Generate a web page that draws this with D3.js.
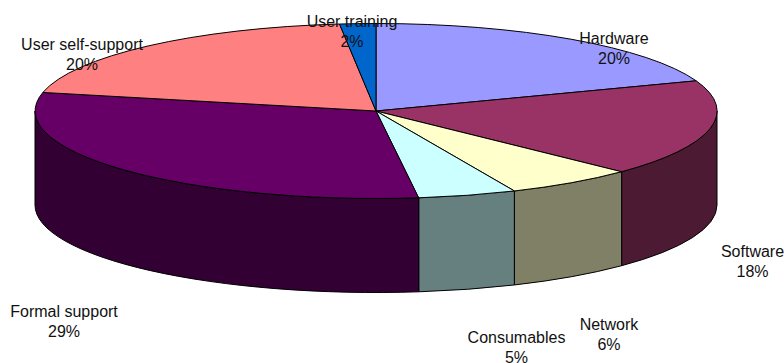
<!DOCTYPE html>
<html><head><meta charset="utf-8">
<script src="https://cdnjs.cloudflare.com/ajax/libs/d3/7.8.5/d3.min.js"></script>
<style>html,body{margin:0;padding:0;background:#fff}svg{display:block}
text{font-family:"Liberation Sans",Arial,sans-serif;font-size:16px;fill:#111;text-anchor:middle}</style>
</head><body><svg id="c" width="784" height="363"></svg>
<script>
// Category names and printed percentages
const categories = ["Hardware","Software","Network","Consumables","Formal support","User self-support","User training"];
const percentLabels = [20,18,6,5,29,20,2];
// Slice shares as drawn (the 3D projection skews them slightly from the printed percentages)
const sliceShares = [19.4,17.8,6.15,4.65,30.4,19.9,1.7];
const topColors  = ["#9999FF","#993366","#FFFFCC","#CCFFFF","#660066","#FF8080","#0066CC"];
const sideColors = ["#4D4D80","#4D1A33","#808066","#668080","#330033","#804040","#003366"];
// Label anchors (centre x, first-line baseline)
const labelX = [614,752.5,609,516.5,64,82,352];
const labelY = [44,257,330,343,317,50,27];

const cx=376, cy=111, rx=341, ry=87.5, depth=94;
const lineGap=19.5;
const svg=d3.select("#c");
const pie=d3.pie().sort(null).value(d=>d)(sliceShares);
const arc=d3.arc().innerRadius(0).outerRadius(1);
const px=a=>cx+rx*Math.sin(a), py=a=>cy-ry*Math.cos(a);

// side walls: only the front half (pi/2..3pi/2) is visible
const sides=svg.append("g");
pie.forEach((d,i)=>{
  const a0=Math.max(d.startAngle,Math.PI/2), a1=Math.min(d.endAngle,3*Math.PI/2);
  if(a1<=a0) return;
  const p=`M${px(a0)},${py(a0)}L${px(a0)},${py(a0)+depth}`+
    `A${rx},${ry} 0 0 1 ${px(a1)},${py(a1)+depth}L${px(a1)},${py(a1)}`+
    `A${rx},${ry} 0 0 0 ${px(a0)},${py(a0)}Z`;
  sides.append("path").attr("d",p).attr("fill",sideColors[i]).attr("stroke","#000").attr("stroke-width",1);
});

// top face: unit pie scaled into an ellipse
svg.append("g").attr("transform",`translate(${cx},${cy}) scale(${rx},${ry})`)
  .selectAll("path").data(pie).join("path")
  .attr("d",arc).attr("fill",(d,i)=>topColors[i])
  .attr("stroke","#000").attr("stroke-width",1)
  .attr("stroke-linejoin","round").attr("vector-effect","non-scaling-stroke");

// labels
const labs=svg.append("g");
categories.forEach((c,i)=>{
  labs.append("text").attr("x",labelX[i]).attr("y",labelY[i]).text(c);
  labs.append("text").attr("x",labelX[i]).attr("y",labelY[i]+lineGap).text(percentLabels[i]+"%");
});
</script></body></html>
